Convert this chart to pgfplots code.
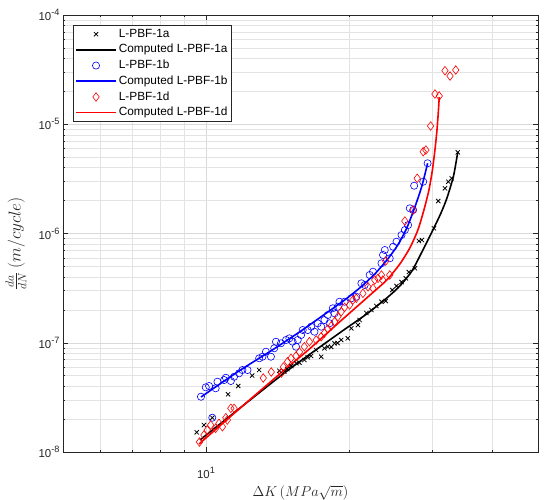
\documentclass[border=0pt]{standalone}
\usepackage{fontspec}
\setmainfont{Liberation Sans}
\usepackage{pgfplots}
\pgfplotsset{compat=1.18}
\definecolor{axgray}{RGB}{38,38,38}
\definecolor{mblue}{RGB}{0,0,255}
\definecolor{mred}{RGB}{255,0,0}
\newcommand\sups[1]{\raisebox{0.45em}{\fontsize{9.2}{10}\selectfont #1}}
\begin{document}
\begin{tikzpicture}
\useasboundingbox (-63bp,-48bp) rectangle (487bp,452bp);
\begin{axis}[
  at={(0,0)}, anchor=south west,
  scale only axis, width=475bp, height=437bp,
  xmode=log, ymode=log,
  xmin=5, xmax=50, ymin=1e-8, ymax=1e-4,
  xtick={10}, xticklabels={10\sups{1}},
  minor xtick={5,6,7,8,9,20,30,40,50},
  ytick={1e-8,1e-7,1e-6,1e-5,1e-4},
  yticklabels={10\sups{-8},10\sups{-7},10\sups{-6},10\sups{-5},10\sups{-4}},
  minor ytick={2e-8,3e-8,4e-8,5e-8,6e-8,7e-8,8e-8,9e-8,2e-7,3e-7,4e-7,5e-7,6e-7,7e-7,8e-7,9e-7,2e-6,3e-6,4e-6,5e-6,6e-6,7e-6,8e-6,9e-6,2e-5,3e-5,4e-5,5e-5,6e-5,7e-5,8e-5,9e-5},
  grid=both,
  major grid style={black!15, line width=0.5bp},
  minor grid style={black!11, line width=0.5bp},
  tick align=inside,
  major tick length=5bp, minor tick length=2.5bp,
  axis line style={axgray, line width=0.6bp},
  every tick/.style={axgray, line width=0.5bp},
  tick label style={font=\fontsize{11.5}{13}\selectfont, text=axgray},
  xticklabel style={yshift=-12bp},
  xlabel={$\Delta K\,(MPa\sqrt{m})$},
  ylabel={$\frac{da}{dN}\,(m/cycle)$},
  xlabel style={font=\fontsize{13.6}{15}\selectfont, text=axgray, at={(axis description cs:0.5,-0.094)}, anchor=center},
  ylabel style={font=\fontsize{17.5}{19}\selectfont, text=axgray, at={(axis description cs:-0.099,0.476)}, anchor=center},
  legend image code/.code={\draw[mark repeat=2,mark phase=2,#1] plot coordinates {(0bp,0bp) (20bp,0bp) (40bp,0bp)};},
  legend style={at={(axis description cs:0.021,0.977)}, anchor=north west,
    draw=axgray, line width=0.5bp, fill=white,
    font=\fontsize{11.9}{13}\selectfont,
    inner xsep=2bp, inner ysep=1bp, row sep=0bp,
    nodes={inner xsep=2bp, inner ysep=2.3bp, text height=8.6bp, text depth=2.5bp},
    cells={anchor=west}},
]
% L-PBF-1a data
\addplot[only marks, mark=x, mark size=3bp, mark options={black, line width=0.8bp}] coordinates {
(9.56,1.514e-8) (9.90,1.766e-8) (10.31,2.061e-8) (11.13,3.375e-8) (11.69,4.019e-8)
(12.51,5.014e-8) (12.94,5.630e-8) (14.27,5.548e-8) (14.62,5.455e-8) (14.83,5.749e-8)
(15.12,6.127e-8) (15.50,6.485e-8) (15.73,6.568e-8) (16.11,6.953e-8) (16.37,7.360e-8)
(16.65,7.564e-8) (17.06,8.584e-8) (17.48,7.453e-8) (17.76,8.897e-8) (18.05,9.201e-8)
(18.35,9.144e-8) (18.65,9.886e-8) (18.92,9.947e-8) (19.26,1.060e-7) (19.89,1.098e-7)
(20.23,1.356e-7) (20.89,1.454e-7) (21.06,1.615e-7) (21.76,1.872e-7) (22.29,1.994e-7)
(22.84,2.170e-7) (23.41,2.375e-7) (23.90,2.411e-7) (24.67,3.040e-7) (25.18,3.307e-7)
(25.80,3.598e-7) (26.35,3.890e-7) (26.73,4.442e-7) (27.53,4.803e-7) (28.07,8.539e-7)
(28.48,8.722e-7) (30.19,1.116e-6) (30.83,1.984e-6) (31.85,2.593e-6) (32.37,2.980e-6)
(32.91,3.201e-6) (33.89,5.535e-6)
};
\addlegendentry{L-PBF-1a}
% Computed L-PBF-1a
\addplot[black, line width=1.6bp, smooth, tension=0.4] coordinates {
(9.71,1.288e-8) (14.62,5.286e-8) (19.10,1.228e-7) (21.79,1.833e-7) (24.02,2.568e-7)
(25.59,3.307e-7) (27.13,4.538e-7) (28.48,6.771e-7) (30.04,1.076e-6) (31.24,1.540e-6)
(32.16,2.113e-6) (33.20,3.360e-6) (33.89,5.572e-6)
};
\addlegendentry{Computed L-PBF-1a}
% L-PBF-1b data
\addplot[only marks, mark=o, mark size=3.6bp, mark options={mblue, line width=0.6bp}] coordinates {
(9.76,3.208e-8) (9.99,3.910e-8) (10.15,4.019e-8) (10.31,2.061e-8) (10.48,3.829e-8)
(10.57,4.401e-8) (10.92,4.560e-8) (11.01,4.787e-8) (11.28,4.467e-8) (11.46,4.889e-8)
(11.74,5.253e-8) (11.93,5.630e-8) (12.23,5.630e-8) (12.94,7.206e-8) (13.15,7.453e-8)
(13.37,8.283e-8) (13.70,7.453e-8) (13.92,8.897e-8) (14.04,1.022e-7) (14.38,9.886e-8)
(14.74,1.060e-7) (14.98,1.098e-7) (15.22,1.022e-7) (15.47,9.201e-8) (15.60,1.060e-7)
(15.86,1.177e-7) (15.98,1.308e-7) (16.37,1.308e-7) (16.65,1.403e-7) (16.92,1.262e-7)
(17.19,1.507e-7) (17.48,1.403e-7) (17.76,1.615e-7) (18.05,1.795e-7) (18.20,1.507e-7)
(18.49,2.067e-7) (18.65,1.860e-7) (18.95,2.138e-7) (19.10,2.375e-7) (19.58,2.375e-7)
(20.23,2.552e-7) (20.72,2.639e-7) (21.24,3.501e-7) (21.58,3.379e-7) (22.11,4.170e-7)
(22.47,4.471e-7) (23.41,5.336e-7) (23.59,6.357e-7) (23.79,7.063e-7) (24.37,5.929e-7)
(24.77,7.572e-7) (25.18,8.414e-7) (25.80,9.690e-7) (26.22,1.076e-6) (26.64,1.196e-6)
(26.86,1.701e-6) (27.30,1.641e-6) (27.43,2.738e-6) (28.66,2.980e-6) (29.28,4.392e-6)
};
\addlegendentry{L-PBF-1b}
% Computed L-PBF-1b
\addplot[mblue, line width=1.6bp, smooth, tension=0.4] coordinates {
(9.76,3.187e-8) (11.74,5.528e-8) (13.79,8.584e-8) (15.73,1.254e-7) (17.93,1.872e-7)
(19.58,2.462e-7) (21.06,3.170e-7) (22.66,4.259e-7) (24.13,5.841e-7) (25.34,7.848e-7)
(26.47,1.123e-6) (27.53,1.748e-6) (28.48,2.721e-6) (29.28,4.392e-6)
};
\addlegendentry{Computed L-PBF-1b}
% L-PBF-1d data
\addplot[only marks, mark=diamond, mark size=4.3bp, mark options={mred, line width=0.6bp}] coordinates {
(9.69,1.234e-8) (9.90,1.431e-8) (10.06,1.590e-8) (10.23,1.766e-8) (10.48,1.648e-8)
(10.65,1.831e-8) (10.83,1.704e-8) (11.01,2.061e-8) (11.09,1.963e-8) (11.28,2.512e-8)
(11.46,2.512e-8) (13.20,4.757e-8) (13.72,5.399e-8) (14.41,5.286e-8) (14.55,5.998e-8)
(14.85,6.707e-8) (15.10,7.206e-8) (15.47,7.564e-8) (15.73,8.229e-8) (16.11,9.201e-8)
(16.51,1.022e-7) (17.06,1.060e-7) (17.48,1.136e-7) (17.76,1.228e-7) (18.05,1.336e-7)
(18.35,1.423e-7) (18.65,1.558e-7) (18.95,1.731e-7) (19.26,1.924e-7) (19.58,2.111e-7)
(20.06,2.216e-7) (20.38,2.462e-7) (20.72,2.552e-7) (21.40,2.835e-7) (21.93,3.258e-7)
(22.47,3.150e-7) (22.66,3.753e-7) (23.02,3.890e-7) (23.41,4.170e-7) (23.56,3.753e-7)
(23.90,5.601e-7) (24.37,4.170e-7) (26.22,1.301e-6) (27.30,1.641e-6) (27.84,3.201e-6)
(28.66,5.607e-6) (29.04,5.810e-6) (29.71,9.640e-6) (30.34,1.892e-5) (30.98,1.814e-5)
(31.85,3.092e-5) (32.64,2.764e-5) (33.56,3.138e-5)
};
\addlegendentry{L-PBF-1d}
% Computed L-PBF-1d
\addplot[mred, line width=1.6bp, smooth, tension=0.4] coordinates {
(9.67,1.184e-8) (11.74,2.475e-8) (14.62,5.630e-8) (16.51,8.766e-8) (19.10,1.548e-7)
(21.79,2.568e-7) (24.02,3.753e-7) (25.59,5.258e-7) (26.86,7.368e-7) (27.93,1.076e-6)
(28.76,1.641e-6) (29.47,2.501e-6) (29.97,3.813e-6) (30.34,5.810e-6) (30.64,8.859e-6)
(30.86,1.350e-5) (30.98,1.776e-5)
};
\addlegendentry{Computed L-PBF-1d}
\end{axis}
\end{tikzpicture}
\end{document}
